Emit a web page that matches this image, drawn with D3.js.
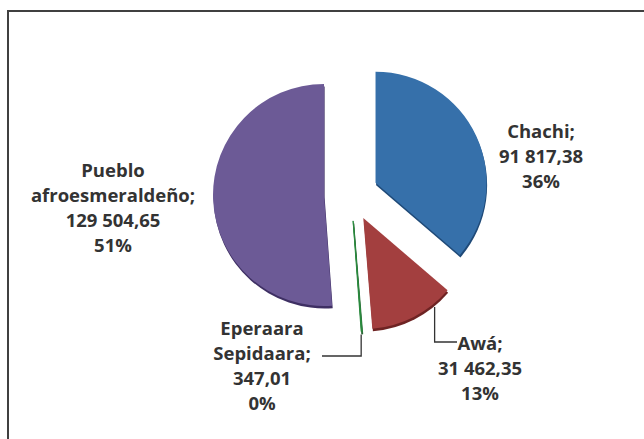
<!DOCTYPE html>
<html>
<head>
<meta charset="utf-8">
<script src="https://cdn.jsdelivr.net/npm/d3@7"></script>
<style>
  body { margin: 0; background: #fff; }
  svg { display: block; }
</style>
</head>
<body>
<div id="chart"></div>
<script>
// data
const names = ['Chachi', 'Awá', 'Eperaara Sepidaara', 'Pueblo afroesmeraldeño'];
const values = [91817.38, 31462.35, 347.01, 129504.65];
const shares = ['36%', '13%', '0%', '51%'];
const colors = ['#3670aa', '#a33f3f', '#2a8a3e', '#6c5a96'];
const shades = ['#1f4a78', '#6e2323', '#1a5a26', '#3e2f63'];

const w = 644,
    h = 439,
    cx = 351,
    cy = 194,
    r = 111,
    explode = 27,
    textColor = '#333333';

const loc = d3.formatLocale({ decimal: ',', thousands: ' ', grouping: [3], currency: ['', ''] });
const fmt = loc.format(',.2f');

const svg = d3.select('#chart').append('svg')
    .attr('width', w)
    .attr('height', h);

// frame, runs off the right and bottom edge
svg.append('rect')
    .attr('x', 8)
    .attr('y', 11)
    .attr('width', w)
    .attr('height', h)
    .attr('fill', 'none')
    .attr('stroke', '#404040')
    .attr('stroke-width', 2);

const pie = d3.pie().sort(null).value(d => d.value);
const rows = names.map((n, i) => ({ name: n, value: values[i], share: shares[i], i: i }));
const arcs = pie(rows);

const arc = d3.arc().innerRadius(0).outerRadius(r);

// offset of each exploded slice
function shift(d) {
    const a = (d.startAngle + d.endAngle) / 2;
    return [cx + explode * Math.sin(a), cy - explode * Math.cos(a)];
}

const g = svg.append('g');

// darker copy underneath, gives the slight bevel
g.selectAll('path.shade')
    .data(arcs)
    .join('path')
    .attr('class', 'shade')
    .attr('d', arc)
    .attr('fill', d => shades[d.data.i])
    .attr('stroke', d => d.data.value < 1000 ? shades[d.data.i] : 'none')
    .attr('stroke-width', 0.8)
    .attr('transform', d => { const p = shift(d); return 'translate(' + (p[0] + 0.6) + ',' + (p[1] + 2.5) + ')'; });

g.selectAll('path.slice')
    .data(arcs)
    .join('path')
    .attr('class', 'slice')
    .attr('d', arc)
    .attr('fill', d => colors[d.data.i])
    .attr('stroke', d => d.data.value < 1000 ? colors[d.data.i] : 'none')
    .attr('stroke-width', 1)
    .attr('transform', d => { const p = shift(d); return 'translate(' + p[0] + ',' + p[1] + ')'; });

// label anchors (centre x, first baseline)
const labelPos = {
    'Chachi': { x: 541, y: 138, lines: d => ['Chachi;', fmt(d.value), d.share] },
    'Awá': { x: 480, y: 350, lines: d => ['Awá;', fmt(d.value), d.share] },
    'Eperaara Sepidaara': { x: 262, y: 335, lines: d => ['Eperaara', 'Sepidaara;', fmt(d.value), d.share] },
    'Pueblo afroesmeraldeño': { x: 113, y: 177, lines: d => ['Pueblo', 'afroesmeraldeño;', fmt(d.value), d.share] }
};

arcs.forEach(d => {
    const lp = labelPos[d.data.name];
    const t = svg.append('text')
        .attr('x', lp.x)
        .attr('y', lp.y)
        .attr('text-anchor', 'middle')
        .attr('fill', textColor)
        .style('font-family', '"Open Sans", sans-serif')
        .style('font-weight', 'bold')
        .style('font-size', '18.5px');
    lp.lines(d.data).forEach((s, k) => {
        t.append('tspan')
            .attr('x', lp.x)
            .attr('dy', k === 0 ? 0 : 25)
            .text(s);
    });
});

// leader lines
function edgePoint(d, ang) {
    const p = shift(d);
    return [p[0] + r * Math.sin(ang), p[1] - r * Math.cos(ang)];
}

const awa = arcs[1];
const pa = edgePoint(awa, 140 * Math.PI / 180);
svg.append('path')
    .attr('d', d3.line()([[pa[0], pa[1] + 4], [pa[0], 342], [457, 342]]))
    .attr('fill', 'none')
    .attr('stroke', textColor)
    .attr('stroke-width', 1.3);

const epe = arcs[2];
const pe = edgePoint(epe, epe.endAngle);
svg.append('path')
    .attr('d', d3.line()([[pe[0], pe[1] + 3], [pe[0], 356], [322, 356]]))
    .attr('fill', 'none')
    .attr('stroke', textColor)
    .attr('stroke-width', 1.3);
</script>
</body>
</html>
